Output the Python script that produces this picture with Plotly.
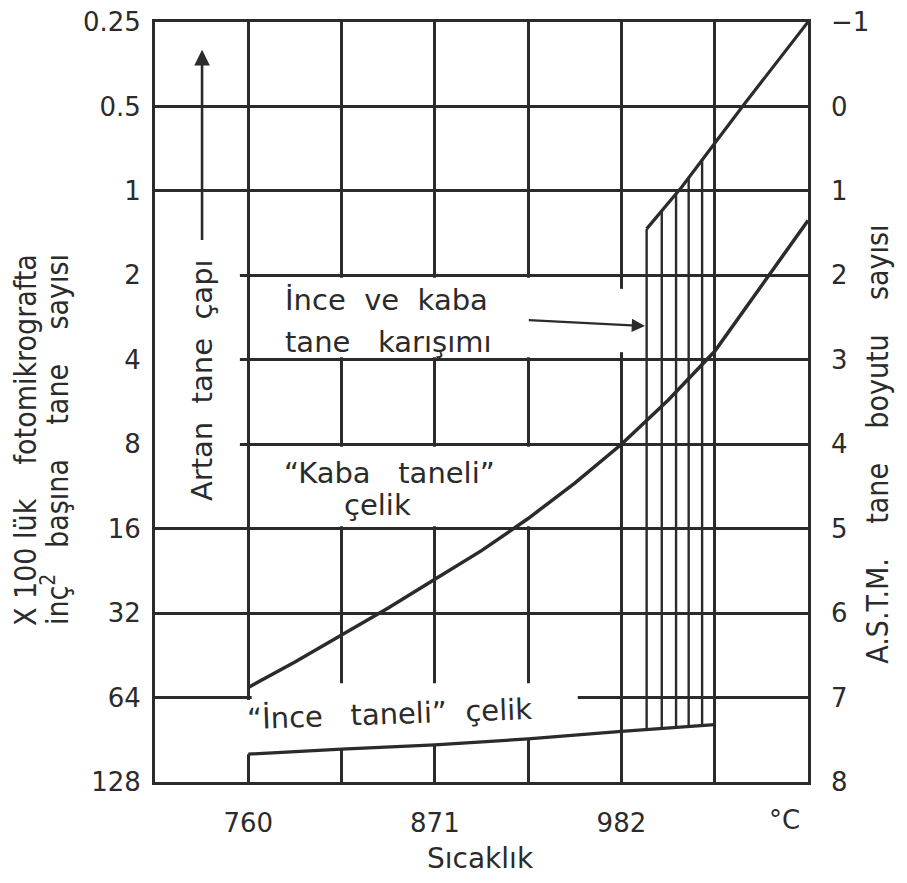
import numpy as np
import plotly.graph_objects as go

# ---------------- data ----------------
temp_grid = [704.5, 760, 815.5, 871, 926.5, 982, 1037.5, 1093]
temp_labels = ["", "760", "", "871", "", "982", "", ""]
astm_ticks = [-1, 0, 1, 2, 3, 4, 5, 6, 7, 8]
grains_labels = ["0.25", "0.5", "1", "2", "4", "8", "16", "32", "64", "128"]
astm_labels = ["\u22121", "0", "1", "2", "3", "4", "5", "6", "7", "8"]

# coarse grained boundary curve (temperature, ASTM number)
coarse_T = [760, 787.75, 815.5, 843.25, 871, 898.75, 926.5, 954.25, 982, 1009.75, 1037.5, 1065.25, 1093]
coarse_n = [6.88, 6.58, 6.26, 5.94, 5.6, 5.26, 4.88, 4.46, 4.0, 3.48, 2.9, 2.12, 1.35]

# fine grained steel line
fine_T = [760, 815.5, 871, 926.5, 982, 1037.5]
fine_n = [7.67, 7.61, 7.56, 7.49, 7.4, 7.32]

# upper limit of the mixed (fine + coarse) region
mixed_top_T = [997, 1018, 1054, 1093]
mixed_top_n = [1.45, 0.95, 0.0, -1.0]

# vertical hatch lines of mixed grain region
mixed_T = [997, 1006, 1014.5, 1022, 1030]

INK = "#2b2b2b"
FONT = "DejaVu Sans"
COND = "DejaVu Sans Condensed, DejaVu Sans"

fig = go.Figure()

fig.add_trace(go.Scatter(x=coarse_T, y=coarse_n, mode="lines",
                         line=dict(color=INK, width=3.5), hoverinfo="skip"))
fig.add_trace(go.Scatter(x=fine_T, y=fine_n, mode="lines",
                         line=dict(color=INK, width=3.2), hoverinfo="skip"))
fig.add_trace(go.Scatter(x=mixed_top_T, y=mixed_top_n, mode="lines",
                         line=dict(color=INK, width=3.2), hoverinfo="skip"))
hx, hy = [], []
for t in mixed_T:
    hx += [t, t, None]
    hy += [float(np.interp(t, fine_T, fine_n)), float(np.interp(t, mixed_top_T, mixed_top_n)), None]
fig.add_trace(go.Scatter(x=hx, y=hy, mode="lines",
                         line=dict(color=INK, width=2.4), hoverinfo="skip"))
fig.add_trace(go.Scatter(x=[None], y=[None], yaxis="y2", hoverinfo="skip"))

# ---------------- white masks over grid (text areas) ----------------
def rect(x0, x1, y0, y1):
    fig.add_shape(type="rect", xref="x", yref="y", x0=x0, x1=x1, y0=y0, y1=y1,
                  fillcolor="white", line=dict(width=0), layer="between")

rect(704.5, 755, 1.03, 4.97)          # left column (arrow text)
rect(762, 979.5, 2.03, 2.97)          # "İnce ve kaba" area
rect(980, 984, 2.16, 2.91)            # gap at arrow
rect(762, 979.5, 4.03, 4.97)          # "Kaba taneli" area

xs = np.linspace(760, 956, 12)
low = np.interp(xs, fine_T, fine_n)
path = "M 762,6.83 L 956,6.83 "
for x, y in zip(xs[::-1], low[::-1]):
    path += f"L {x},{y} "
path += "L 758,%f L 758,7.03 L 762,7.03 Z" % low[0]
fig.add_shape(type="path", path=path, xref="x", yref="y",
              fillcolor="white", line=dict(width=0), layer="between")

# ---------------- annotations ----------------
def txt(x, y, s, size=29, angle=0, xanchor="center", xref="x", yref="y", font=FONT):
    fig.add_annotation(x=x, y=y, xref=xref, yref=yref, text=s, showarrow=False,
                       textangle=angle, xanchor=xanchor, yanchor="middle",
                       font=dict(family=font, size=size, color=INK))

NB = "\u00a0"
S2 = NB * 2
S3 = NB * 3
S4 = NB * 4
txt(780.7, 2.29, f"İnce{S2}ve{S2}kaba", xanchor="left")
txt(780.7, 2.79, f"tane{S3}karışımı", xanchor="left")
txt(844, 4.34, f"“Kaba{S3}taneli”")
txt(837, 4.72, "çelik")
txt(844, 7.19, f"“İnce{S3}taneli”{S2}çelik", angle=-2)
txt(732.5, 3.24, f"Artan{S2}tane{S2}çapı", angle=-90)

fig.add_annotation(x=732.5, y=-0.67, ax=732.5, ay=1.6, xref="x", yref="y", axref="x", ayref="y",
                   text="", showarrow=True, arrowhead=2, arrowsize=1.2, arrowwidth=2.6, arrowcolor=INK)
fig.add_annotation(x=996, y=2.6, ax=926, ay=2.53, xref="x", yref="y", axref="x", ayref="y",
                   text="", showarrow=True, arrowhead=2, arrowsize=1.2, arrowwidth=2.2, arrowcolor=INK)

# axis titles
txt(-0.199, 0.45, f"X{NB}100{NB}lük{S4}fotomikrografta",
    size=30, angle=-90, xref="paper", yref="paper", font=COND)
txt(-0.153, 0.45, f"inç<sup>2</sup>{S3}başına{S4}tane{S4}sayısı",
    size=30, angle=-90, xref="paper", yref="paper", font=COND)
txt(1.107, 0.445, f"A.S.T.M.{S4}tane{S4}boyutu{S4}sayısı",
    size=30, angle=-90, xref="paper", yref="paper", font=COND)
txt(1079, -0.05, "°C", size=26, yref="paper")
txt(0.498, -0.1, "Sıcaklık", size=28, xref="paper", yref="paper")

axis_common = dict(showline=True, linecolor=INK, linewidth=3, mirror=True, ticks="",
                   zeroline=False, automargin=False, ticklabeloverflow="allow",
                   tickfont=dict(family=FONT, size=26, color=INK))

# page body has an 8px margin: size/margins compensate so plot sits at 155..808 x 22..782
fig.update_layout(
    width=891, height=867,
    margin=dict(l=147, r=91, t=14, b=93),
    paper_bgcolor="white", plot_bgcolor="white",
    showlegend=False,
    xaxis=dict(range=[704.5, 1093], tickmode="array", tickvals=temp_grid, ticktext=temp_labels,
               showgrid=True, gridcolor=INK, gridwidth=2.5, ticklabelstandoff=16, **axis_common),
    yaxis=dict(range=[8, -1], tickmode="array", tickvals=astm_ticks, ticktext=grains_labels,
               showgrid=True, gridcolor=INK, gridwidth=2.5, ticklabelstandoff=6, **axis_common),
    yaxis2=dict(range=[8, -1], tickmode="array", tickvals=astm_ticks, ticktext=astm_labels,
                overlaying="y", side="right", showgrid=False, showline=False, ticks="",
                zeroline=False, automargin=False, ticklabelstandoff=22, ticklabeloverflow="allow",
                tickfont=dict(family=FONT, size=26, color=INK)),
)

fig.write_html("out.html")
